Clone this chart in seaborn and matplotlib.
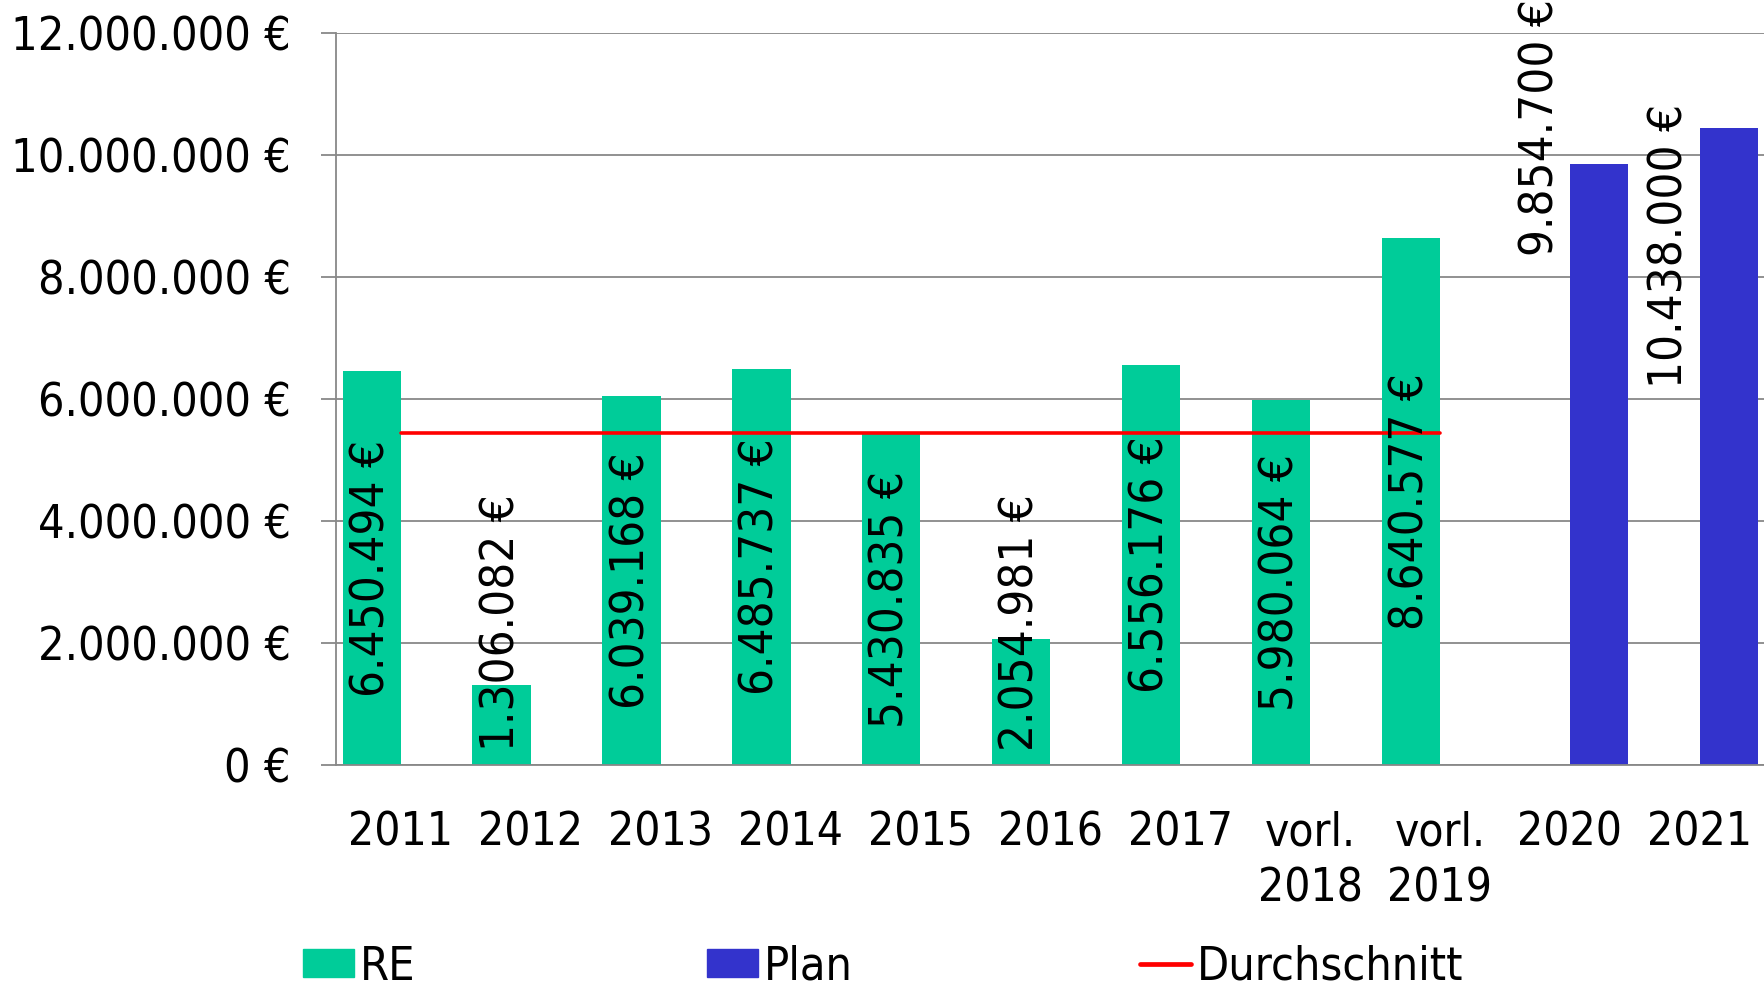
import numpy as np
import pandas as pd
import matplotlib.pyplot as plt
import seaborn as sns
from matplotlib import font_manager as fm
from matplotlib.patches import Patch
from matplotlib.lines import Line2D
from matplotlib.ticker import FuncFormatter

# ---------- style ----------
sns.set_style("white")
# narrow Tahoma-like look: DejaVu Sans Condensed if it is there, else Liberation Sans
has_condensed = any(f.name == 'DejaVu Sans' and f.stretch == 'condensed'
                    for f in fm.fontManager.ttflist)
if has_condensed:
    plt.rcParams['font.family'] = ['DejaVu Sans']
    plt.rcParams['font.stretch'] = 'condensed'
else:
    plt.rcParams['font.family'] = ['Liberation Sans', 'DejaVu Sans']
plt.rcParams['text.color'] = 'black'
plt.rcParams['xtick.labelcolor'] = 'black'
plt.rcParams['ytick.labelcolor'] = 'black'

# ---------- data ----------
jahre = ['2011', '2012', '2013', '2014', '2015', '2016', '2017',
         'vorl.\n2018', 'vorl.\n2019', '2020', '2021']
re_werte = [6450494, 1306082, 6039168, 6485737, 5430835, 2054981,
            6556176, 5980064, 8640577, 0, 0]
plan_werte = [0, 0, 0, 0, 0, 0, 0, 0, 0, 9854700, 10438000]
durchschnitt = [5438235, 5438235, 5438235, 5438235, 5438235,
                5438235, 5438235, 5438235, 5438235]

GREEN = '#00CC99'
BLUE = '#3333CC'
RED = '#FF0000'
GRID = '#888888'
FS_Y = 33.5
FS_X = 33
FS_LABEL = 34
FS_LEG = 33.5

df = pd.DataFrame({
    'Jahr': jahre + jahre,
    'Wert': re_werte + plan_werte,
    'Serie': ['RE'] * len(jahre) + ['Plan'] * len(jahre),
})


def euro(v):
    return f"{v:,.0f} €".replace(',', '.')


# ---------- plot ----------
fig = plt.figure(figsize=(17.65, 9.89), dpi=100)
ax = fig.add_axes([0.1904, 0.2268, 0.8094, 0.7398])

sns.barplot(data=df, x='Jahr', y='Wert', hue='Serie',
            palette={'RE': GREEN, 'Plan': BLUE}, width=0.9,
            saturation=1, linewidth=0, legend=False, ax=ax, zorder=2)
sns.lineplot(x=np.arange(len(durchschnitt)), y=durchschnitt, color=RED,
             lw=2.6, ax=ax, zorder=3)

# data labels (vertical, like Excel); short bars get the label pushed up
for i, v in enumerate(re_werte):
    if v <= 0:
        continue
    if v / 2 < 2.4e6:
        ax.text(i - 0.225, 0.22e6, euro(v), rotation=90, ha='center',
                va='bottom', fontsize=FS_LABEL, zorder=4)
    else:
        ax.text(i - 0.225, v / 2, euro(v), rotation=90, ha='center',
                va='center', fontsize=FS_LABEL, zorder=4)
# plan labels sit on the left slot of their group
plan_label_unten = {9: 8.34e6, 10: 6.18e6}
for i, v in enumerate(plan_werte):
    if v > 0:
        ax.text(i - 0.225, plan_label_unten[i], euro(v), rotation=90,
                ha='center', va='bottom', fontsize=FS_LABEL, zorder=4)

# ---------- axes ----------
ax.set_xlim(-0.5, len(jahre) - 0.5)
ax.set_ylim(0, 12e6)
ax.set_yticks(np.arange(0, 12e6 + 1, 2e6))
ax.yaxis.set_major_formatter(FuncFormatter(lambda v, p: euro(v)))
ax.set_xlabel('')
ax.set_ylabel('')

ax.set_xticks(np.arange(-0.5, len(jahre), 1), minor=True)
ax.tick_params(axis='x', which='major', length=0, pad=33, labelsize=FS_X)
ax.tick_params(axis='x', which='minor', length=11.5, width=1.3, color=GRID)
ax.tick_params(axis='y', length=10.8, width=1.3, color=GRID, pad=22,
               labelsize=FS_Y, left=True)
for lab in ax.get_xticklabels():
    lab.set_linespacing(1.3)

ax.yaxis.grid(True, color=GRID, lw=1.3)
ax.set_axisbelow(True)
for side in ['top', 'right']:
    ax.spines[side].set_visible(False)
for side in ['left', 'bottom']:
    ax.spines[side].set_color(GRID)
    ax.spines[side].set_linewidth(1.3)

# ---------- legend (three entries spread across the bottom) ----------
legenden = [
    (Patch(color=GREEN), 'RE', 0.1717),
    (Patch(color=BLUE), 'Plan', 0.4006),
    (Line2D([], [], color=RED, lw=3.4), 'Durchschnitt', 0.6459),
]
for handle, text, xpos in legenden:
    fig.legend(handles=[handle], labels=[text], loc='center left',
               bbox_to_anchor=(xpos, 0.0222), frameon=False, fontsize=FS_LEG,
               borderpad=0, borderaxespad=0, handlelength=1.1,
               handleheight=0.55, handletextpad=0.12)

fig.savefig('out.png', dpi=100)
